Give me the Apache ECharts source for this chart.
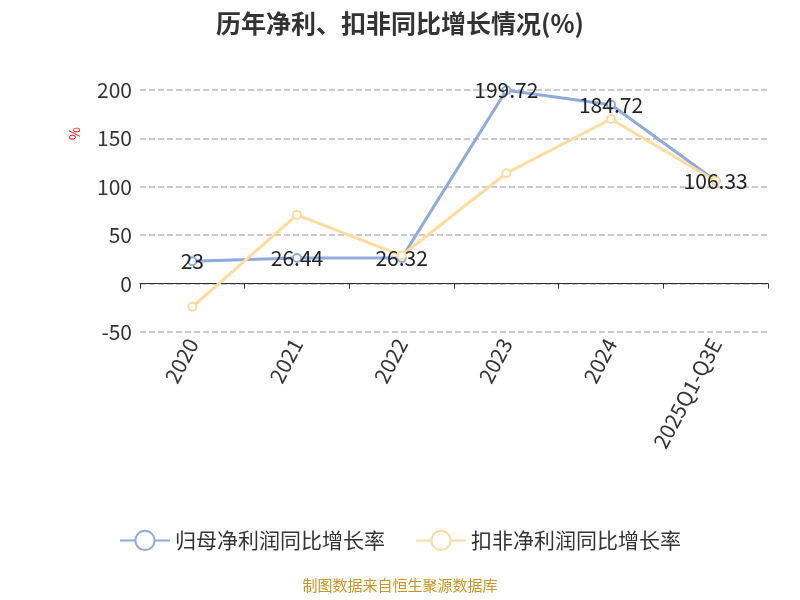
<!DOCTYPE html>
<html><head><meta charset="utf-8">
<script src="https://cdn.jsdelivr.net/npm/echarts@6/dist/echarts.min.js"></script>
</head><body style="margin:0">
<div id="c" style="width:800px;height:600px"></div>
<script>
const categories = ['2020','2021','2022','2023','2024','2025Q1-Q3E'];
const netProfitGrowth = [23, 26.44, 26.32, 199.72, 184.72, 106.33];
const deductedGrowth = [-24, 71, 29, 114, 170, 106];
const seriesNames = ['归母净利润同比增长率','扣非净利润同比增长率'];
const F = 'Noto Sans CJK SC';
const chart = echarts.init(document.getElementById('c'));
chart.setOption({
  textStyle:{fontFamily:F},
  title:{text:'历年净利、扣非同比增长情况(%)',left:'center',top:6,textStyle:{fontSize:25,fontWeight:'bold',color:'#333',fontFamily:F}},
  legend:{bottom:44,itemWidth:50,itemHeight:24,textStyle:{fontSize:21,color:'#333',fontFamily:F},itemGap:30,data:seriesNames},
  graphic:[
    {type:'text',left:'center',top:578,style:{text:'制图数据来自恒生聚源数据库',fill:'#c8961e',fontSize:15,fontFamily:F}},
    {type:'text',x:68,y:140,rotation:Math.PI/2,style:{text:'%',fill:'red',fontSize:14,fontFamily:F}}
  ],
  grid:{left:140,right:32,top:90,bottom:268},
  xAxis:{type:'category',data:categories,boundaryGap:true,
    axisLine:{onZero:true,lineStyle:{color:'#333'}},axisTick:{show:true,lineStyle:{color:'#333'}},
    axisLabel:{rotate:62,fontSize:21,color:'#333',interval:0,fontFamily:F}},
  yAxis:{type:'value',min:-50,max:200,interval:50,
    axisLine:{show:false},axisTick:{show:false},
    axisLabel:{fontSize:21,color:'#333',fontFamily:F},splitLine:{lineStyle:{type:'dashed',color:'#bbb',width:1.5}}},
  series:[
    {name:seriesNames[0],type:'line',data:netProfitGrowth,symbol:'emptyCircle',symbolSize:8,
     itemStyle:{color:'#8faadc'},lineStyle:{width:3,color:'#8faadc'},
     label:{show:true,fontSize:21,color:'#222',position:'inside',fontFamily:F}},
    {name:seriesNames[1],type:'line',data:deductedGrowth,symbol:'emptyCircle',symbolSize:8,
     itemStyle:{color:'#ffdc9b'},lineStyle:{width:3,color:'#ffdc9b'}}
  ]
});
</script></body></html>
